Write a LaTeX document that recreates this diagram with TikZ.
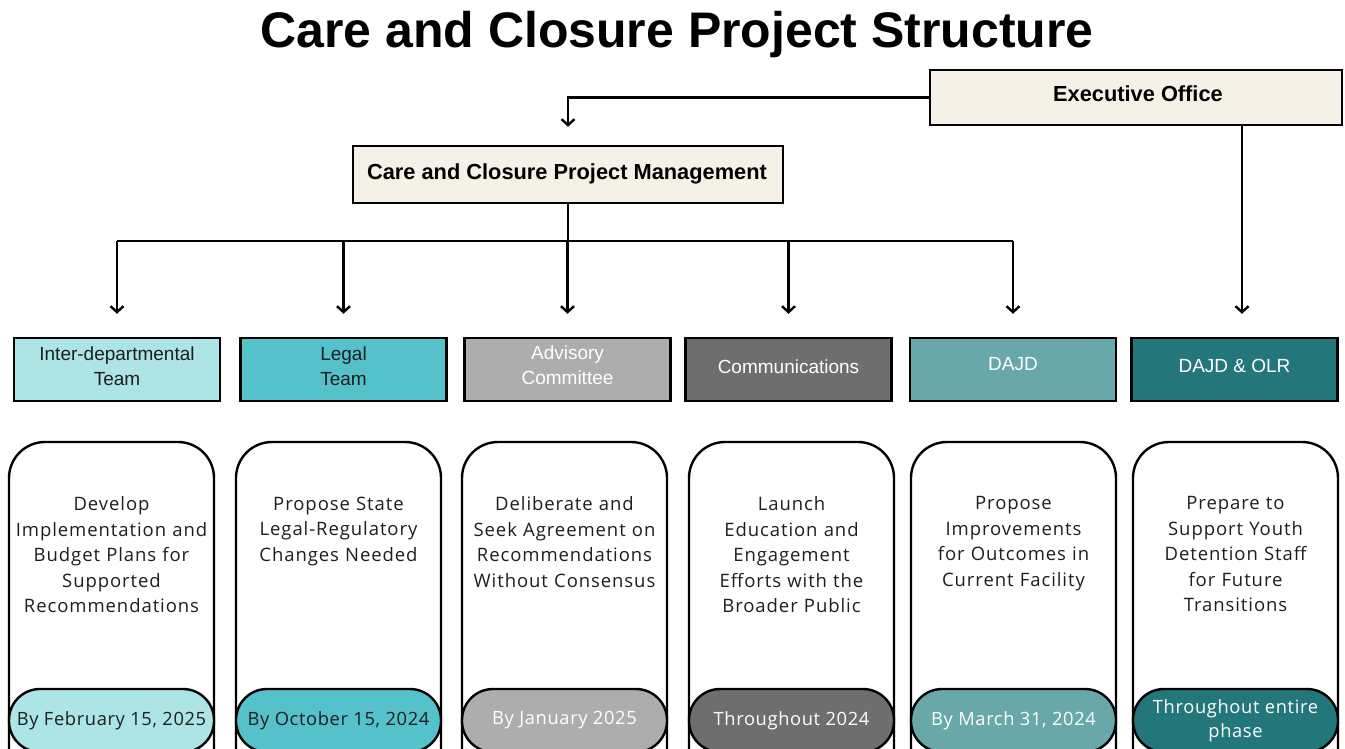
\documentclass[tikz,border=0pt]{standalone}
\usepackage{fontspec}
\setmainfont{Liberation Sans}
\newfontfamily\cardfont[LetterSpace=5]{Open Sans}
\newfontfamily\pillfont[LetterSpace=3.5]{Open Sans}
\usetikzlibrary{arrows.meta,positioning,calc}
\definecolor{cream}{HTML}{F5F1E6}
\definecolor{cA}{HTML}{ADE4E6}
\definecolor{cB}{HTML}{55C1CA}
\definecolor{cC}{HTML}{ADADAD}
\definecolor{cD}{HTML}{6E6E6E}
\definecolor{cE}{HTML}{68A8AA}
\definecolor{cF}{HTML}{23777A}
\definecolor{txt}{HTML}{1E1E1E}
\begin{document}
\begin{tikzpicture}[x=1pt,y=-1pt,
  headbox/.style={draw=black,line width=2.4pt,fill=cream,inner sep=0pt},
  headtext/.style={font=\fontsize{21.8}{24}\selectfont\bfseries},
  rolebox/.style={draw=black,line width=2.4pt,minimum width=206pt,minimum height=63pt,inner sep=0pt},
  roletext/.style={align=center,inner sep=0pt,font=\fontsize{19}{25}\selectfont},
  card/.style={draw=black,line width=2.4pt,fill=white,rounded corners=36pt},
  pill/.style={draw=black,line width=2.4pt,rounded corners=31pt,minimum width=205pt,minimum height=63pt,inner sep=0pt,align=center,font=\pillfont\fontsize{18.3}{24}\selectfont},
  cardtext/.style={text width=204pt,align=center,inner sep=0pt,anchor=north,font=\cardfont\fontsize{18.5}{25.5}\selectfont,text=txt},
  conn/.style={draw=black,line width=2.4pt},
  arr/.style={conn,-{Straight Barb[length=6pt,width=13pt,line width=2.4pt]}}
]
\useasboundingbox (0,0) rectangle (1345,749);
\clip (0,0) rectangle (1345,749);
\fill[white] (0,0) rectangle (1345,749);

\node[font=\fontsize{50}{54}\selectfont\bfseries] (title) at (677,35) {Care and Closure Project Structure};

\node[headbox,minimum width=412pt,minimum height=55pt] (exec) at (1136,97.5) {};
\node[headtext] (exect) at (1138,94) {Executive Office};
\node[headbox,minimum width=430pt,minimum height=57pt] (ccpm) at (568,174.5) {};
\node[headtext] (ccpmt) at (567,174) {Care and Closure Project Management};

\node[rolebox,fill=cA] (r1) at (117,369.5) {};
\node[rolebox,fill=cB] (r2) at (343.5,369.5) {};
\node[rolebox,fill=cC] (r3) at (567.5,369.5) {};
\node[rolebox,fill=cD] (r4) at (788.5,369.5) {};
\node[rolebox,fill=cE] (r5) at (1013,369.5) {};
\node[rolebox,fill=cF] (r6) at (1234.5,369.5) {};
\node[roletext,text=txt] (l1) at (117,366.5) {Inter-departmental\\Team};
\node[roletext,text=txt] (l2) at (343.5,366.5) {Legal\\Team};
\node[roletext,text=white] (l3) at (567.5,365.5) {Advisory\\Committee};
\node[roletext,text=white] (l4) at (788.5,367) {Communications};
\node[roletext,text=white] (l5) at (1013,364) {DAJD};
\node[roletext,text=white] (l6) at (1234.5,366) {DAJD \& OLR};

\coordinate (bus) at (0,241);
\draw[arr,shorten >=18pt] (exec.west) -| (ccpm.north);
\draw[conn] (ccpm.south) -- (ccpm.south |- bus);
\draw[conn] (r1.north |- bus) -- (r5.north |- bus);
\foreach \r in {r1,r2,r3,r4,r5}{
  \draw[arr,shorten >=23pt] (\r.north |- bus) -- (\r.north);
}
\coordinate (execdrop) at (1242,125);
\draw[arr,shorten >=23pt] (execdrop) -- (execdrop |- r6.north);

% cards
\foreach \n/\cx/\col/\tc/\body/\date in {
  1/111.5/cA/txt/{Develop\\Implementation and\\Budget Plans for\\Supported\\Recommendations}/{By February 15, 2025},
  2/338.5/cB/txt/{Propose State\\Legal-Regulatory\\Changes Needed}/{By October 15, 2024},
  3/564.5/cC/white/{Deliberate and\\Seek Agreement on\\Recommendations\\Without Consensus}/{By January 2025},
  4/791.5/cD/white/{Launch\\Education and\\Engagement\\Efforts with the\\Broader Public}/{Throughout 2024},
  5/1013.5/cE/white/{Propose\\Improvements\\for Outcomes in\\Current Facility}/{By March 31, 2024},
  6/1235.5/cF/white/{Prepare to\\Support Youth\\Detention Staff\\for Future\\Transitions}/{Throughout entire\\phase}}{
  \draw[card] (\cx-102.5,442) rectangle (\cx+102.5,800);
  \node[cardtext] (t\n) at (\cx,496.5) {\body};
  \node[pill,fill=\col,text=\tc] (p\n) at (\cx,720.5) {\date};
}
\end{tikzpicture}
\end{document}
